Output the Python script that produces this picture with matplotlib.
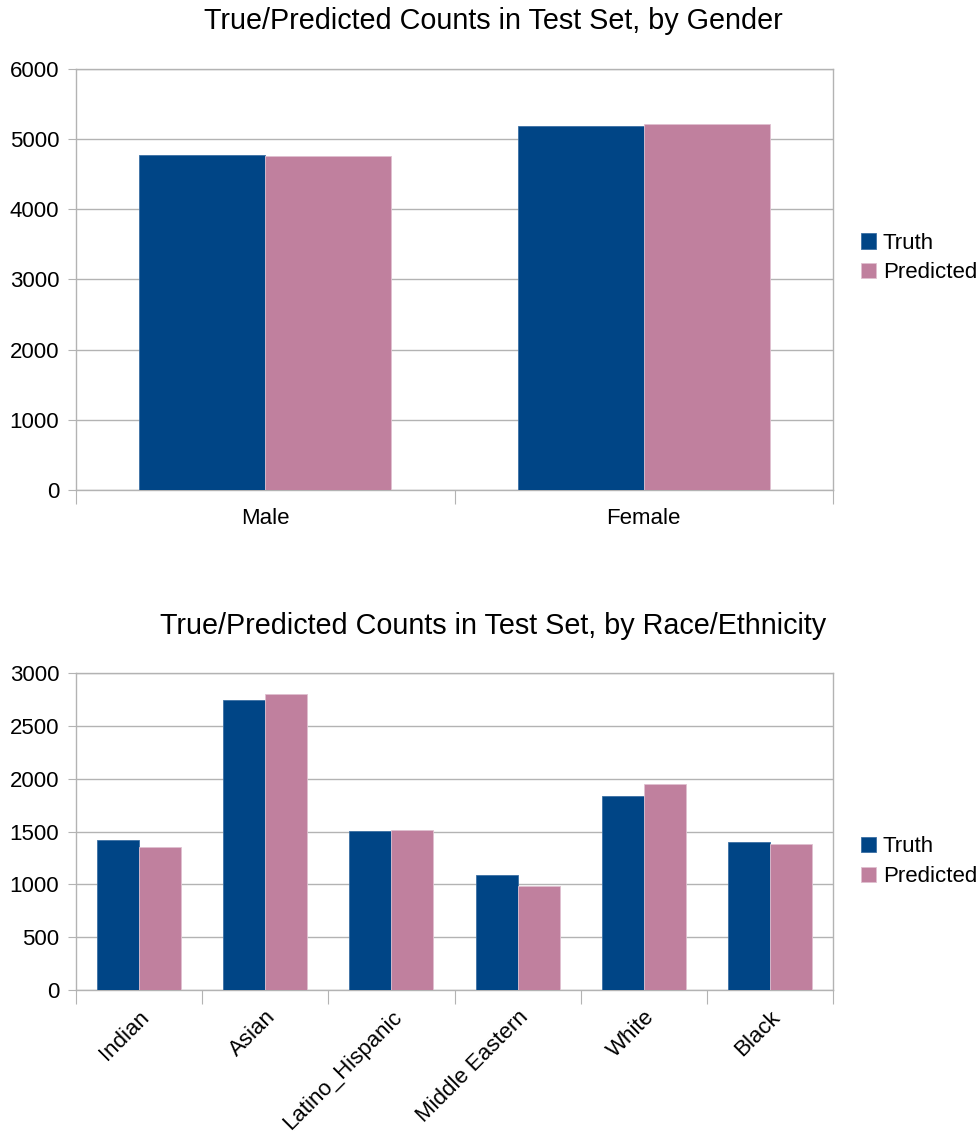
import numpy as np
import matplotlib.pyplot as plt

plt.rcParams['font.family'] = ['Liberation Sans', 'DejaVu Sans']

gender_cats = ['Male', 'Female']
gender_truth = [4772, 5193]
gender_pred = [4753, 5222]

race_cats = ['Indian', 'Asian', 'Latino_Hispanic', 'Middle Eastern', 'White', 'Black']
race_truth = [1421, 2743, 1505, 1091, 1835, 1402]
race_pred = [1358, 2800, 1515, 987, 1953, 1386]

truth_color = '#004586'
pred_color = '#c0809e'
grid_color = '#b3b3b3'

W, H = 979, 1134
fig = plt.figure(figsize=(W / 100, H / 100), dpi=100)


def px_axes(left, top, right, bottom):
    return fig.add_axes([left / W, 1 - bottom / H, (right - left) / W, (bottom - top) / H])


def draw(ax, cats, truth, pred, ymax, ystep, rotate, legend_y):
    n = len(cats)
    x = np.arange(n) + 0.5
    w = 1 / 3
    ax.bar(x - w / 2, truth, w, color=truth_color, edgecolor='#3b6fa3', linewidth=0.6, label='Truth', zorder=3)
    ax.bar(x + w / 2, pred, w, color=pred_color, edgecolor='#e0c0d0', linewidth=0.6, label='Predicted', zorder=3)
    ax.set_xlim(0, n)
    ax.set_ylim(0, ymax)
    ax.set_yticks(np.arange(0, ymax + 1, ystep))
    ax.yaxis.grid(True, color=grid_color, linewidth=1, zorder=0)
    for s in ['left', 'right', 'top', 'bottom']:
        ax.spines[s].set_color(grid_color)
        ax.spines[s].set_linewidth(1)
    ax.tick_params(axis='y', length=6, color=grid_color, labelsize=16, pad=6)
    # category boundary ticks
    ax.set_xticks(np.arange(n + 1), minor=False)
    ax.set_xticklabels([])
    ax.tick_params(axis='x', which='major', length=10, color=grid_color)
    ax.set_xticks(x, minor=True)
    if rotate:
        ax.set_xticklabels(cats, minor=True, rotation=45, ha='right', rotation_mode='anchor')
        ax.tick_params(axis='x', which='minor', length=0, labelsize=16, pad=12)
    else:
        ax.set_xticklabels(cats, minor=True)
        ax.tick_params(axis='x', which='minor', length=0, labelsize=16, pad=13)
    ax.legend(loc='center left', bbox_to_anchor=(1.01, legend_y), frameon=False, fontsize=16,
              handlelength=0.7, handleheight=0.7, handletextpad=0.3, labelspacing=0.4)


ax1 = px_axes(76, 69, 833, 490)
draw(ax1, gender_cats, gender_truth, gender_pred, 6000, 1000, False, 0.551)
fig.text(493 / W, 1 - 21 / H, 'True/Predicted Counts in Test Set, by Gender', ha='center', va='center', fontsize=20.7)

ax2 = px_axes(76, 673, 833, 990)
draw(ax2, race_cats, race_truth, race_pred, 3000, 500, True, 0.404)
fig.text(493 / W, 1 - 626 / H, 'True/Predicted Counts in Test Set, by Race/Ethnicity', ha='center', va='center', fontsize=20.7)

fig.savefig('out.png', dpi=100)
